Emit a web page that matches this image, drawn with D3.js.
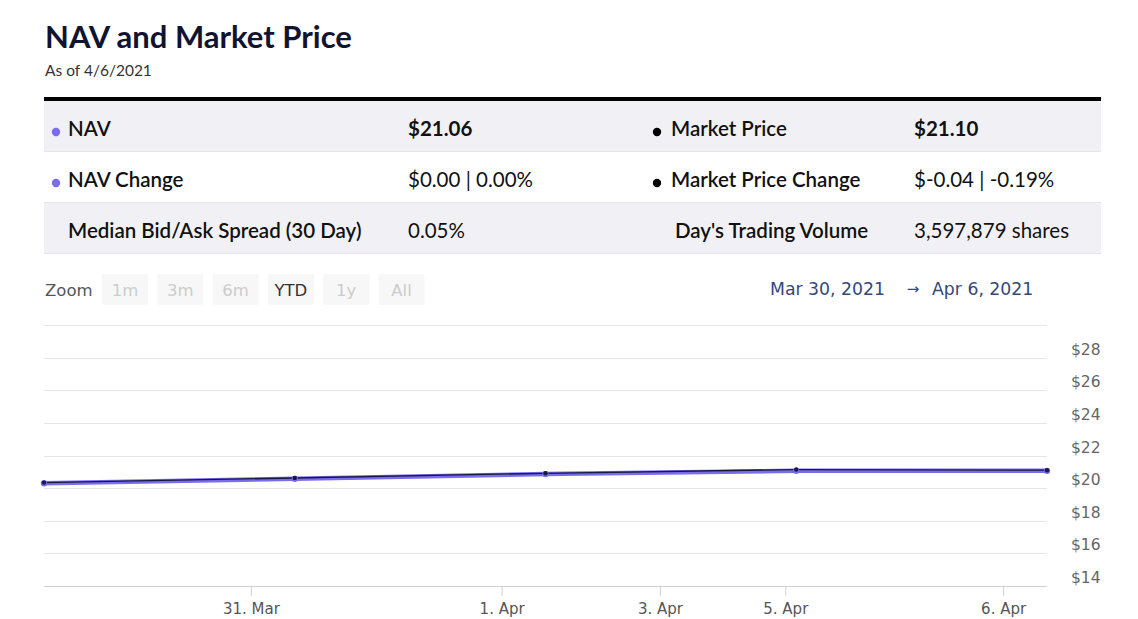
<!DOCTYPE html>
<html>
<head>
<meta charset="utf-8">
<script src="https://cdn.jsdelivr.net/npm/d3@7"></script>
<style>
  html, body { margin: 0; padding: 0; background: #fff; }
  svg { display: block; }
</style>
</head>
<body>
<svg id="chart" width="1138" height="619"></svg>
<script>
// ---------- data ----------
const dates = ["2021-03-30T04:12", "2021-03-31T04:12", "2021-04-01T04:12", "2021-04-05T04:12", "2021-04-06T04:12"];
const navValues = [20.30, 20.57, 20.86, 21.06, 21.06];
const marketValues = [20.34, 20.62, 20.91, 21.14, 21.10];
const xTickDates = ["2021-03-31", "2021-04-01", "2021-04-03", "2021-04-05", "2021-04-06"];
const yTickValues = [14, 16, 18, 20, 22, 24, 26, 28, 30];
const yTickLabels = ["$14", "$16", "$18", "$20", "$22", "$24", "$26", "$28", ""];
const zoomButtons = ["1m", "3m", "6m", "YTD", "1y", "All"];
const activeButton = "YTD";
const tableRows = [
  [{ label: "NAV", value: "$21.06", dot: "nav", bold: true }, { label: "Market Price", value: "$21.10", dot: "mkt", bold: true }],
  [{ label: "NAV Change", value: "$0.00 | 0.00%", dot: "nav" }, { label: "Market Price Change", value: "$-0.04 | -0.19%", dot: "mkt" }],
  [{ label: "Median Bid/Ask Spread (30 Day)", value: "0.05%" }, { label: "Day's Trading Volume", value: "3,597,879 shares" }]
];

// ---------- styling ----------
const NAV_COLOR = "#7b6cec";
const MKT_COLOR = "#161a45";
const svg = d3.select("#chart");
const parse = d3.isoParse;
const tableFont = "Lato, 'Noto Sans', sans-serif";

// Title
svg.append("text").attr("x", 45).attr("y", 48)
  .attr("font-family", tableFont).attr("font-weight", 700)
  .attr("font-size", 31).attr("fill", "#111431").text("NAV and Market Price");
svg.append("text").attr("x", 45).attr("y", 76)
  .attr("font-family", tableFont)
  .attr("font-size", 15.5).attr("fill", "#333").text("As of 4/6/2021");

// Table
const tableX0 = 44, tableX1 = 1101, rowTop = 101, rowH = 51;
svg.append("rect").attr("x", tableX0).attr("y", 97).attr("width", tableX1 - tableX0).attr("height", 4).attr("fill", "#000");
const rows = svg.append("g").selectAll("g").data(tableRows).join("g")
  .attr("transform", (d, i) => `translate(0,${rowTop + i * rowH})`);
rows.append("rect").attr("x", tableX0).attr("width", tableX1 - tableX0).attr("height", rowH - 1)
  .attr("fill", (d, i) => i % 2 === 0 ? "#f1f1f5" : "#fff");
rows.append("line").attr("x1", tableX0).attr("x2", tableX1).attr("y1", rowH - 0.5).attr("y2", rowH - 0.5)
  .attr("stroke", "#e4e4ea");
const colDefs = [
  { dotX: 56, labelX: 68, plainX: 68, valueX: 408 },
  { dotX: 657, labelX: 671, plainX: 675, valueX: 914 }
];
rows.each(function (row) {
  const g = d3.select(this);
  row.forEach((cell, ci) => {
    const c = colDefs[ci];
    const cy = 28;
    if (cell.dot) {
      g.append("circle").attr("cx", c.dotX).attr("cy", cy + 3).attr("r", 4.2)
        .attr("fill", cell.dot === "nav" ? NAV_COLOR : "#000");
    }
    const lx = cell.dot ? c.labelX : c.plainX;
    g.append("text").attr("x", lx).attr("y", cy + 6.5)
      .attr("font-family", tableFont).attr("font-weight", 600)
      .attr("font-size", 20.5).attr("fill", "#111").text(cell.label);
    g.append("text").attr("x", c.valueX).attr("y", cy + 6.5)
      .attr("font-family", tableFont).attr("font-weight", cell.bold ? 700 : 400)
      .attr("font-size", 20.5).attr("fill", "#111").text(cell.value);
  });
});

// Zoom buttons
const uiFont = "'DejaVu Sans', Verdana, sans-serif";
svg.append("text").attr("x", 45).attr("y", 296).attr("font-family", uiFont)
  .attr("font-size", 16.5).attr("fill", "#555").text("Zoom");
const btn = svg.append("g").selectAll("g").data(zoomButtons).join("g")
  .attr("transform", (d, i) => `translate(${102 + i * 55.3},274)`);
btn.append("rect").attr("width", 46).attr("height", 31).attr("rx", 2).attr("fill", "#f7f7f7");
btn.append("text").attr("x", 23).attr("y", 22).attr("text-anchor", "middle")
  .attr("font-family", uiFont).attr("font-size", 16.5)
  .attr("fill", d => d === activeButton ? "#333" : "#cccccc").text(d => d);

// Date range
svg.append("text").attr("x", 770).attr("y", 295).attr("font-family", uiFont)
  .attr("font-size", 17.3).attr("fill", "#34487a").text("Mar 30, 2021");
svg.append("text").attr("x", 913).attr("y", 294).attr("text-anchor", "middle").attr("font-family", uiFont)
  .attr("font-size", 15).attr("fill", "#34487a").text("→");
svg.append("text").attr("x", 932).attr("y", 295).attr("font-family", uiFont)
  .attr("font-size", 17.3).attr("fill", "#34487a").text("Apr 6, 2021");

// ---------- chart ----------
const plotLeft = 44, plotRight = 1047, plotTop = 325, plotBottom = 586;
const times = dates.map(parse);
const step = (plotRight - plotLeft) / (times.length - 1);
// ordinal-style axis: trading days equally spaced
const x = d3.scaleLinear().domain(times).range(times.map((d, i) => plotLeft + i * step));
const y = d3.scaleLinear().domain([14, 30]).range([plotBottom, plotTop]);

// grid
svg.append("g").selectAll("line").data(yTickValues.slice(1)).join("line")
  .attr("x1", plotLeft).attr("x2", plotRight)
  .attr("y1", d => Math.round(y(d)) + 0.5).attr("y2", d => Math.round(y(d)) + 0.5)
  .attr("stroke", "#e6e6e6");

// y labels
svg.append("g").selectAll("text").data(yTickValues).join("text")
  .attr("x", 1071).attr("y", d => y(d) - 3)
  .attr("font-family", uiFont).attr("font-size", 15.5).attr("fill", "#666")
  .text((d, i) => yTickLabels[i]);

// x axis
const xAxis = d3.axisBottom(x)
  .tickValues(xTickDates.map(parse))
  .tickFormat(d3.timeFormat("%-d. %b"))
  .tickSize(10).tickPadding(7);
const gx = svg.append("g").attr("transform", `translate(0,${plotBottom})`).call(xAxis);
gx.select(".domain").attr("stroke", "#d0d0d0").attr("d", `M${plotLeft},0.5H${plotRight}`);
gx.selectAll(".tick line").attr("stroke", "#d0d0d0");
gx.selectAll(".tick text").attr("font-family", uiFont).attr("font-size", 15).attr("fill", "#555");

// lines
const line = vals => d3.line().x((d, i) => x(times[i])).y(d => y(d))(vals);
svg.append("path").attr("d", line(navValues)).attr("fill", "none")
  .attr("stroke", NAV_COLOR).attr("stroke-width", 4.5);
svg.append("path").attr("d", line(marketValues)).attr("fill", "none")
  .attr("stroke", MKT_COLOR).attr("stroke-width", 1.3);
svg.append("g").selectAll("circle").data(navValues).join("circle")
  .attr("cx", (d, i) => x(times[i])).attr("cy", d => y(d)).attr("r", 3.2).attr("fill", NAV_COLOR);
svg.append("g").selectAll("circle").data(marketValues).join("circle")
  .attr("cx", (d, i) => x(times[i])).attr("cy", d => y(d)).attr("r", 2.2).attr("fill", MKT_COLOR);
</script>
</body>
</html>
